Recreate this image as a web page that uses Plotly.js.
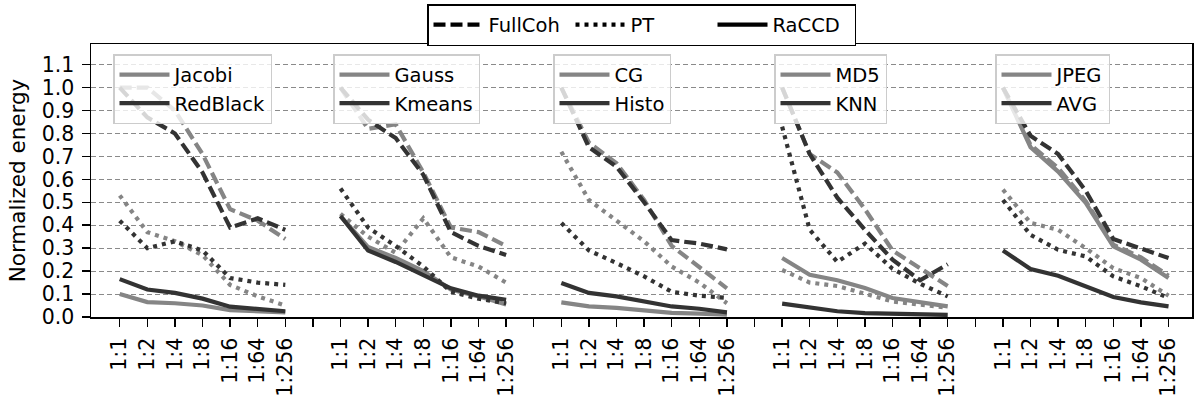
<!DOCTYPE html>
<html>
<head>
<meta charset="utf-8">
<script src="https://cdn.plot.ly/plotly-3.0.1.min.js"></script>
<style>html,body{margin:0;padding:0;background:#fff}#chart{width:1196px;height:401px}</style>
</head>
<body>
<div id="chart"></div>
<script>
// ---- data ----
const ratios = ['1:1', '1:2', '1:4', '1:8', '1:16', '1:64', '1:256'];
const configs = ['FullCoh', 'PT', 'RaCCD'];
const benchLight = ['Jacobi', 'Gauss', 'CG', 'MD5', 'JPEG'];
const benchDark = ['RedBlack', 'Kmeans', 'Histo', 'KNN', 'AVG'];

const jacobiFullCoh = [1.0, 1.0, 0.90, 0.71, 0.47, 0.42, 0.34];
const jacobiPT      = [0.53, 0.37, 0.33, 0.27, 0.14, 0.09, 0.05];
const jacobiRaCCD   = [0.10, 0.065, 0.06, 0.05, 0.03, 0.025, 0.02];
const redBlackFullCoh = [1.0, 0.87, 0.80, 0.63, 0.39, 0.43, 0.38];
const redBlackPT      = [0.42, 0.30, 0.33, 0.29, 0.17, 0.15, 0.14];
const redBlackRaCCD   = [0.165, 0.12, 0.105, 0.08, 0.045, 0.035, 0.025];

const gaussFullCoh = [1.0, 0.82, 0.84, 0.63, 0.39, 0.37, 0.31];
const gaussPT      = [0.45, 0.35, 0.28, 0.43, 0.26, 0.22, 0.15];
const gaussRaCCD   = [0.44, 0.305, 0.257, 0.20, 0.12, 0.09, 0.054];
const kmeansFullCoh = [1.0, 0.86, 0.78, 0.62, 0.37, 0.31, 0.27];
const kmeansPT      = [0.56, 0.39, 0.31, 0.22, 0.11, 0.08, 0.06];
const kmeansRaCCD   = [0.44, 0.29, 0.24, 0.185, 0.125, 0.093, 0.075];

const cgFullCoh = [1.0, 0.76, 0.67, 0.51, 0.31, 0.22, 0.125];
const cgPT      = [0.72, 0.51, 0.42, 0.33, 0.22, 0.15, 0.06];
const cgRaCCD   = [0.064, 0.046, 0.04, 0.03, 0.018, 0.015, 0.01];
const histoFullCoh = [1.0, 0.74, 0.655, 0.50, 0.335, 0.32, 0.295];
const histoPT      = [0.41, 0.29, 0.235, 0.177, 0.11, 0.093, 0.083];
const histoRaCCD   = [0.148, 0.105, 0.09, 0.068, 0.046, 0.036, 0.02];

const md5FullCoh = [1.0, 0.71, 0.63, 0.47, 0.29, 0.21, 0.135];
const md5PT      = [0.205, 0.15, 0.135, 0.10, 0.068, 0.054, 0.04];
const md5RaCCD   = [0.257, 0.184, 0.16, 0.126, 0.083, 0.064, 0.046];
const knnFullCoh = [1.0, 0.71, 0.52, 0.38, 0.25, 0.16, 0.23];
const knnPT      = [0.83, 0.38, 0.24, 0.32, 0.21, 0.145, 0.09];
const knnRaCCD   = [0.058, 0.04, 0.025, 0.017, 0.013, 0.01, 0.009];

const jpegFullCoh = [1.0, 0.75, 0.65, 0.505, 0.315, 0.26, 0.18];
const jpegPT      = [0.555, 0.41, 0.38, 0.30, 0.213, 0.17, 0.093];
const jpegRaCCD   = [1.0, 0.74, 0.634, 0.497, 0.308, 0.25, 0.17];
const avgFullCoh = [1.0, 0.79, 0.71, 0.55, 0.34, 0.30, 0.257];
const avgPT      = [0.51, 0.358, 0.293, 0.264, 0.177, 0.134, 0.083];
const avgRaCCD   = [0.29, 0.209, 0.18, 0.134, 0.087, 0.064, 0.046];

const lightSeries = [
  [jacobiFullCoh, jacobiPT, jacobiRaCCD],
  [gaussFullCoh, gaussPT, gaussRaCCD],
  [cgFullCoh, cgPT, cgRaCCD],
  [md5FullCoh, md5PT, md5RaCCD],
  [jpegFullCoh, jpegPT, jpegRaCCD]
];
const darkSeries = [
  [redBlackFullCoh, redBlackPT, redBlackRaCCD],
  [kmeansFullCoh, kmeansPT, kmeansRaCCD],
  [histoFullCoh, histoPT, histoRaCCD],
  [knnFullCoh, knnPT, knnRaCCD],
  [avgFullCoh, avgPT, avgRaCCD]
];

// ---- styles ----
const LIGHT = '#858585';
const DARK = '#333333';
const LW = 4.2;
const dashes = ['12px,5px', '4px,5px', 'solid'];
const FONT = 'DejaVu Sans, Verdana, sans-serif';
const slot = ratios.length + 1;

const traces = [];
for (let g = 0; g < benchLight.length; g++) {
  const xs = ratios.map((r, i) => g * slot + i);
  [[lightSeries[g], LIGHT, benchLight[g]], [darkSeries[g], DARK, benchDark[g]]].forEach(([ser, col, name]) => {
    ser.forEach((vals, c) => {
      traces.push({
        type: 'scatter', mode: 'lines', x: xs, y: vals,
        name: name + ' ' + configs[c],
        line: {color: col, width: LW, dash: dashes[c]},
        showlegend: false, hoverinfo: 'skip'
      });
    });
  });
}

// inner legends
const legendLefts = [113, 333, 553, 774, 995];
const plotL = 91, plotR = 1192, plotT = 44, plotB = 317;
const pw = plotR - plotL, ph = plotB - plotT;
const layoutLegends = {};
for (let g = 0; g < benchLight.length; g++) {
  const key = 'legend' + (g + 2);
  [[benchLight[g], LIGHT], [benchDark[g], DARK]].forEach(([name, col]) => {
    traces.push({
      type: 'scatter', mode: 'lines', x: [null], y: [null], name: name,
      line: {color: col, width: LW}, legend: key, showlegend: true, hoverinfo: 'skip'
    });
  });
  layoutLegends[key] = {
    x: (legendLefts[g] - plotL) / pw, y: 1 - (54 - plotT) / ph,
    xanchor: 'left', yanchor: 'top',
    bgcolor: 'rgba(255,255,255,0.8)', bordercolor: '#cccccc', borderwidth: 1.5,
    font: {family: FONT, size: 19.5, color: '#000'},
    itemwidth: 50, tracegroupgap: 0
  };
}
// top legend
configs.forEach((name, c) => {
  traces.push({
    type: 'scatter', mode: 'lines', x: [null], y: [null], name: name,
    line: {color: '#000', width: LW, dash: dashes[c]}, legend: 'legend',
    showlegend: true, hoverinfo: 'skip'
  });
});

const tickvals = [], ticktext = [];
for (let g = 0; g < benchLight.length; g++) {
  ratios.forEach((r, i) => { tickvals.push(g * slot + i); ticktext.push(r); });
  if (g < benchLight.length - 1) { tickvals.push(g * slot + ratios.length); ticktext.push(''); }
}

const layout = Object.assign({
  width: 1196, height: 401,
  margin: {l: plotL, r: 1196 - plotR, t: plotT, b: 401 - plotB},
  paper_bgcolor: '#fff', plot_bgcolor: '#fff',
  font: {family: FONT, size: 20.5, color: '#000'},
  xaxis: {
    range: [-1.04, 38.85], tickmode: 'array', tickvals: tickvals, ticktext: ticktext,
    tickangle: -90, ticks: 'outside', ticklen: 8, tickwidth: 1.5, tickcolor: '#000',
    ticklabelstandoff: 3,
    showline: true, linecolor: '#000', linewidth: 1.5, mirror: true,
    showgrid: false, zeroline: false, tickfont: {family: FONT, size: 20.5}
  },
  yaxis: {
    range: [0, 1.19], tickmode: 'linear', tick0: 0, dtick: 0.1, tickformat: '.1f',
    ticks: 'outside', ticklen: 8, tickwidth: 1.5, tickcolor: '#000',
    ticklabelstandoff: 3,
    showline: true, linecolor: '#000', linewidth: 1.5, mirror: true,
    showgrid: true, gridcolor: '#8a8a8a', gridwidth: 1, griddash: '5px,3px',
    zeroline: false, tickfont: {family: FONT, size: 20.5},
    title: {text: 'Normalized energy', font: {family: FONT, size: 21.5}, standoff: 10}
  },
  legend: {
    orientation: 'h', x: 0.5, xanchor: 'center', y: 1 + (plotT - 4) / ph, yanchor: 'top',
    bgcolor: '#fff', bordercolor: '#000', borderwidth: 1.5,
    font: {family: FONT, size: 19.5, color: '#000'}, itemwidth: 50,
    entrywidth: 77, entrywidthmode: 'pixels'
  },
  showlegend: true
}, layoutLegends);

Plotly.newPlot('chart', traces, layout, {displayModeBar: false, staticPlot: true});
</script>
</body>
</html>
